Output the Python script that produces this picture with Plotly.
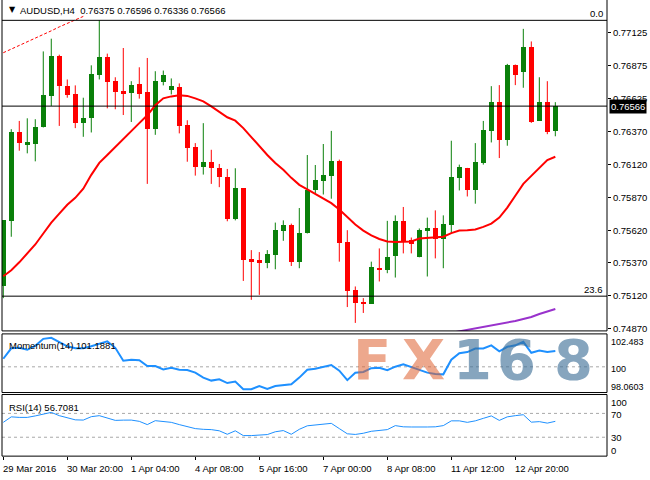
import numpy as np
import plotly.graph_objects as go

W, H = 650, 480
symbol = "AUDUSD,H4"

# ---- data (H4 candles, index 0..69) ----
open_ = [0.75195, 0.75691, 0.76365, 0.76277, 0.76277, 0.76403, 0.76642, 0.76951, 0.76716, 0.76655,
         0.76436, 0.76473, 0.76807, 0.76943, 0.76754, 0.76678, 0.76663, 0.76731, 0.76670, 0.76392,
         0.76749, 0.76688, 0.76711, 0.76421, 0.76256, 0.76105, 0.76140, 0.76095, 0.76026, 0.75703,
         0.75938, 0.75398, 0.75390, 0.75373, 0.75430, 0.75615, 0.75663, 0.75377, 0.75595, 0.75930,
         0.75998, 0.76036, 0.76150, 0.75527, 0.75165, 0.75072, 0.75059, 0.75330, 0.75317, 0.75423,
         0.75691, 0.75549, 0.75418, 0.75612, 0.75633, 0.75551, 0.75663, 0.76019, 0.76095, 0.75930,
         0.76135, 0.76377, 0.76600, 0.76309, 0.76877, 0.76824, 0.77019, 0.76453, 0.76600, 0.76375]
high_ = [0.75695, 0.76390, 0.76453, 0.76473, 0.76466, 0.76983, 0.77080, 0.76958, 0.76769, 0.76724,
         0.76630, 0.76877, 0.77220, 0.76966, 0.76786, 0.77009, 0.76756, 0.76862, 0.76933, 0.76832,
         0.76837, 0.76777, 0.76739, 0.76458, 0.76284, 0.76436, 0.76233, 0.76125, 0.76087, 0.76092,
         0.75938, 0.75468, 0.75453, 0.75468, 0.75678, 0.75695, 0.75670, 0.75789, 0.76193, 0.76117,
         0.76277, 0.76377, 0.76158, 0.75620, 0.75191, 0.75102, 0.75380, 0.75481, 0.75691, 0.75733,
         0.75797, 0.75564, 0.75633, 0.75716, 0.75771, 0.75733, 0.76302, 0.76120, 0.76095, 0.76284,
         0.76453, 0.76718, 0.76726, 0.76888, 0.76883, 0.77155, 0.77059, 0.76786, 0.76756, 0.76596]
low_ = [0.75102, 0.75570, 0.76226, 0.76206, 0.76145, 0.76403, 0.76567, 0.76415, 0.76630, 0.76398,
        0.76332, 0.76365, 0.76769, 0.76549, 0.76542, 0.76498, 0.76445, 0.76623, 0.75973, 0.76347,
        0.76724, 0.76655, 0.76358, 0.76142, 0.76036, 0.76044, 0.75973, 0.75948, 0.75688, 0.75695,
        0.75233, 0.75089, 0.75127, 0.75330, 0.75322, 0.75539, 0.75347, 0.75330, 0.75595, 0.75898,
        0.75892, 0.75860, 0.75380, 0.75034, 0.74913, 0.74989, 0.75059, 0.75229, 0.75292, 0.75259,
        0.75443, 0.75443, 0.75413, 0.75267, 0.75405, 0.75330, 0.75595, 0.75923, 0.75877, 0.75822,
        0.76120, 0.76289, 0.76170, 0.76264, 0.76726, 0.76706, 0.76438, 0.76453, 0.76352, 0.76336]
close_ = [0.75695, 0.76365, 0.76282, 0.76286, 0.76403, 0.76648, 0.76951, 0.76718, 0.76650, 0.76436,
          0.76479, 0.76812, 0.76941, 0.76749, 0.76673, 0.76665, 0.76724, 0.76655, 0.76392, 0.76754,
          0.76807, 0.76718, 0.76413, 0.76246, 0.76105, 0.76140, 0.76092, 0.76029, 0.75703, 0.75938,
          0.75392, 0.75380, 0.75377, 0.75438, 0.75625, 0.75658, 0.75377, 0.75602, 0.75930, 0.76004,
          0.76042, 0.76150, 0.75519, 0.75158, 0.75064, 0.75059, 0.75337, 0.75317, 0.75418, 0.75691,
          0.75539, 0.75514, 0.75625, 0.75633, 0.75551, 0.75670, 0.76029, 0.76100, 0.75930, 0.76142,
          0.76385, 0.76600, 0.76309, 0.76877, 0.76807, 0.77019, 0.76448, 0.76600, 0.76370, 0.76566]

ma_red = [0.75269, 0.75314, 0.75375, 0.75443, 0.75511, 0.75595, 0.75678, 0.75746, 0.75814, 0.75867,
          0.75936, 0.76042, 0.76133, 0.76193, 0.76254, 0.76314, 0.76383, 0.76436, 0.76496, 0.76572,
          0.76625, 0.76640, 0.76648, 0.76644, 0.76625, 0.76602, 0.76564, 0.76519, 0.76481, 0.76455,
          0.76398, 0.76330, 0.76261, 0.76193, 0.76133, 0.76080, 0.76019, 0.75966, 0.75932, 0.75898,
          0.75860, 0.75826, 0.75777, 0.75716, 0.75663, 0.75617, 0.75580, 0.75553, 0.75534, 0.75529,
          0.75529, 0.75534, 0.75557, 0.75562, 0.75567, 0.75570, 0.75598, 0.75617, 0.75620, 0.75625,
          0.75645, 0.75670, 0.75716, 0.75792, 0.75883, 0.75973, 0.76034, 0.76095, 0.76155, 0.76180]
ma_dash_idx = [0, 1, 2, 3, 4, 5, 6, 7, 8, 9, 10]
ma_dash = [0.76973, 0.77000, 0.77030, 0.77057, 0.77087, 0.77114, 0.77140, 0.77170, 0.77197, 0.77223, 0.77250]
ma_purple_idx = list(range(55, 70))
ma_purple = [0.74826, 0.74837, 0.74848, 0.74860, 0.74871, 0.74883, 0.74894, 0.74905, 0.74917, 0.74928,
             0.74943, 0.74958, 0.74981, 0.75000, 0.75019]

momentum = [100.609, 101.396, 101.434, 101.284, 101.584, 102.108, 102.183, 101.884, 101.546, 101.396,
            101.396, 101.546, 101.734, 101.921, 101.434, 100.459, 100.534, 100.497, 100.062, 100.062,
            99.807, 99.934, 99.784, 99.762, 99.560, 99.185, 98.960, 99.057, 98.773, 98.885,
            98.308, 98.308, 98.548, 98.323, 98.548, 98.623, 98.683, 99.185, 99.784, 99.860,
            99.972, 100.137, 99.710, 98.997, 99.560, 99.612, 99.897, 99.934, 99.747, 100.010,
            100.182, 99.972, 99.710, 99.560, 99.462, 99.432, 100.534, 101.022, 101.111, 101.381,
            101.381, 101.621, 101.171, 101.509, 101.621, 101.884, 101.059, 101.232, 101.111, 101.1881]
rsi = [55.0, 64.2, 63.3, 63.3, 65.8, 69.2, 71.7, 66.2, 63.3, 59.2,
       58.8, 64.5, 66.2, 62.8, 58.3, 58.7, 58.8, 56.7, 51.2, 57.8,
       56.7, 55.0, 51.2, 47.5, 44.5, 43.3, 42.8, 40.8, 35.0, 40.8,
       32.8, 32.8, 33.3, 34.5, 39.2, 41.2, 35.0, 43.3, 49.2, 50.8,
       51.7, 53.3, 44.5, 35.8, 34.7, 36.7, 40.0, 41.2, 42.8, 49.5,
       47.5, 47.2, 47.8, 47.2, 47.5, 49.5, 57.5, 57.5, 55.0, 57.5,
       61.7, 65.8, 58.3, 64.2, 66.2, 67.8, 55.3, 56.2, 53.7, 56.7081]

price_ticks = [0.77125, 0.76875, 0.76625, 0.76370, 0.76120, 0.75870, 0.75620, 0.75370, 0.75120, 0.74870]
price_tick_text = ["0.77125", "0.76875", "0.76625", "0.76370", "0.76120", "0.75870",
                   "0.75620", "0.75370", "0.75120", "0.74870"]
date_tick_idx = [0, 8, 16, 24, 32, 40, 48, 56, 64]
date_tick_text = ["29 Mar 2016", "30 Mar 20:00", "1 Apr 04:00", "4 Apr 08:00", "5 Apr 16:00",
                  "7 Apr 00:00", "8 Apr 08:00", "11 Apr 12:00", "12 Apr 20:00"]
fib_labels = ["0.0", "23.6"]
fib_values = [0.77220, 0.75117]
mom_labels = [102.4833, 100, 98.0603]
rsi_levels = [100, 70, 30, 0]

# ---- helpers ----
def px(x):
    return x / W

def py(y):
    return 1 - y / H

FONT = "Liberation Sans, Arial, sans-serif"
GREEN = "#0A800A"
RED = "#FF0000"

n = len(open_)
idx = np.arange(n)
o = np.array(open_); c = np.array(close_); hi = np.array(high_); lo = np.array(low_)
up = c >= o
colors = [GREEN if u else RED for u in up]
body_base = np.minimum(o, c)
body_h = np.maximum(np.abs(c - o), 0.00012)

fig = go.Figure()

# wicks
for flag, col in [(True, GREEN), (False, RED)]:
    xs, ys = [], []
    for i in idx[up == flag]:
        xs += [int(i), int(i), None]
        ys += [float(lo[i]), float(hi[i]), None]
    fig.add_trace(go.Scatter(x=xs, y=ys, mode="lines", line=dict(color=col, width=1),
                             xaxis="x", yaxis="y", hoverinfo="skip", showlegend=False))
# bodies
fig.add_trace(go.Bar(x=idx, y=body_h, base=body_base, width=0.62, marker=dict(color=colors, line=dict(width=0)),
                     xaxis="x", yaxis="y", hoverinfo="skip", showlegend=False))
# moving averages
fig.add_trace(go.Scatter(x=idx, y=ma_red, mode="lines", line=dict(color=RED, width=2),
                         xaxis="x", yaxis="y", hoverinfo="skip", showlegend=False))
fig.add_trace(go.Scatter(x=ma_dash_idx, y=ma_dash, mode="lines", line=dict(color=RED, width=1, dash="3px,2px"),
                         xaxis="x", yaxis="y", hoverinfo="skip", showlegend=False))
fig.add_trace(go.Scatter(x=ma_purple_idx, y=ma_purple, mode="lines", line=dict(color="#9932CC", width=2),
                         xaxis="x", yaxis="y", hoverinfo="skip", showlegend=False))
# momentum
fig.add_trace(go.Scatter(x=idx, y=momentum, mode="lines", line=dict(color="#1E90FF", width=2),
                         xaxis="x2", yaxis="y2", hoverinfo="skip", showlegend=False))
# rsi
fig.add_trace(go.Scatter(x=idx, y=rsi, mode="lines", line=dict(color="#1E90FF", width=1),
                         xaxis="x3", yaxis="y3", hoverinfo="skip", showlegend=False))

xr = [-0.16, 75.46]
xdom = [px(2), px(607)]
common_x = dict(range=xr, domain=xdom, showgrid=False, zeroline=False, showticklabels=False,
                fixedrange=True, showline=False)
shapes = []

def line(x0, y0, x1, y1, color="black", width=1):
    return dict(type="line", xref="paper", yref="paper", x0=px(x0), y0=py(y0), x1=px(x1), y1=py(y1),
                line=dict(color=color, width=width), layer="above")

# panel borders
shapes += [line(2, 0, 2, 333), line(607, 0, 607, 333), line(2, 333, 607, 333)]
shapes += [dict(type="rect", xref="paper", yref="paper", x0=px(2), x1=px(607), y0=py(395), y1=py(336),
                line=dict(color="black", width=1), layer="above"),
           dict(type="rect", xref="paper", yref="paper", x0=px(2), x1=px(607), y0=py(459), y1=py(397),
                line=dict(color="black", width=1), layer="above")]
# fib + price line
for v in fib_values + [close_[-1]]:
    shapes.append(dict(type="line", xref="x domain", yref="y", x0=0, x1=1, y0=v, y1=v,
                       line=dict(color="black", width=1), layer="above"))
# dashed levels
shapes.append(dict(type="line", xref="x2 domain", yref="y2", x0=0, x1=1, y0=100, y1=100,
                   line=dict(color="#A8A8A8", width=1, dash="3px,3px"), layer="below"))
for v in [70, 30]:
    shapes.append(dict(type="line", xref="x3 domain", yref="y3", x0=0, x1=1, y0=v, y1=v,
                       line=dict(color="#A8A8A8", width=1, dash="3px,3px"), layer="below"))

ann = []
FS = 9.5
tf = dict(family=FONT, size=FS, color="black")
# header
ann.append(dict(text="▼", x=px(7), y=py(10), xref="paper", yref="paper", xanchor="left", yanchor="middle",
                showarrow=False, font=dict(family="DejaVu Sans", size=8, color="black")))
ann.append(dict(text=f"{symbol}  {open_[-1]:.5f} {high_[-1]:.5f} {low_[-1]:.5f} {close_[-1]:.5f}",
                x=px(18), y=py(11), xref="paper", yref="paper", xanchor="left", yanchor="middle",
                showarrow=False, font=tf))
# fib labels
for lab, v in zip(fib_labels, fib_values):
    ann.append(dict(text=lab, x=px(605), y=v, xref="paper", yref="y", xanchor="right", yanchor="bottom",
                    showarrow=False, font=tf, yshift=-1))
# current price box
ann.append(dict(text=f"{close_[-1]:.5f}", x=px(609), y=close_[-1], xref="paper", yref="y",
                xanchor="left", yanchor="middle", showarrow=False, bgcolor="black", borderpad=1,
                font=dict(family=FONT, size=FS, color="white")))
# momentum labels
ann.append(dict(text=f"Momentum(14) {momentum[-1]:.4f}", x=px(7), y=py(348), xref="paper", yref="paper",
                xanchor="left", yanchor="middle", showarrow=False, font=tf))
for v, anc, sh in zip(mom_labels, ["top", "middle", "bottom"], [-1, -2, -1]):
    ann.append(dict(text=f"{v:g}", x=px(609), y=v, xref="paper", yref="y2", xanchor="left", yanchor=anc,
                    yshift=sh, showarrow=False, font=dict(family=FONT, size=9, color="black")))
# rsi labels
ann.append(dict(text=f"RSI(14) {rsi[-1]:.4f}", x=px(7), y=py(410), xref="paper", yref="paper",
                xanchor="left", yanchor="middle", showarrow=False, font=tf))
rsi_anchor = {100: ("top", 0), 70: ("middle", -1), 30: ("middle", 0), 0: ("middle", 5)}
for v in rsi_levels:
    anc, sh = rsi_anchor[v]
    ann.append(dict(text=f"{v}", x=px(610), y=v, xref="paper", yref="y3", borderpad=0,
                    xanchor="left", yanchor=anc, yshift=sh, showarrow=False, font=tf))
# date labels
for i, t in zip(date_tick_idx, date_tick_text):
    ann.append(dict(text=t, x=i, y=py(471), xref="x3", yref="paper", xanchor="left", yanchor="middle",
                    xshift=-2, showarrow=False, font=tf))
# watermark
wm = [("F", 372, "rgba(222,96,48,0.55)"), ("X", 424, "rgba(222,96,48,0.55)"),
      ("1", 472, "rgba(60,110,150,0.62)"), ("6", 516, "rgba(60,110,150,0.62)"),
      ("8", 573, "rgba(60,110,150,0.62)")]
for ch, cx, col in wm:
    ann.append(dict(text=ch, x=px(cx), y=py(362), xref="paper", yref="paper", xanchor="center",
                    yanchor="middle", showarrow=False,
                    font=dict(family="DejaVu Sans", size=56, color=col, weight="bold")))

fig.update_layout(
    width=W, height=H, margin=dict(l=0, r=0, t=0, b=0),
    paper_bgcolor="white", plot_bgcolor="white", showlegend=False, bargap=0,
    xaxis=dict(**common_x, anchor="y"),
    xaxis2=dict(**common_x, anchor="y2", matches="x"),
    xaxis3=dict(**common_x, anchor="y3", matches="x", ticks="outside", ticklen=3, tickcolor="black",
                tickvals=date_tick_idx),
    yaxis=dict(domain=[py(333), 1], range=[0.74852, 0.77375], side="right", anchor="x",
               tickvals=price_ticks, ticktext=price_tick_text, ticks="outside", ticklen=3,
               tickcolor="black", tickfont=tf, showgrid=False, zeroline=False, fixedrange=True),
    yaxis2=dict(domain=[py(395), py(336)], range=[98.0603, 102.4833], anchor="x2", showticklabels=False,
                showgrid=False, zeroline=False, fixedrange=True),
    yaxis3=dict(domain=[py(459), py(397)], range=[-1.67, 101.67], anchor="x3", showticklabels=False,
                showgrid=False, zeroline=False, fixedrange=True),
    shapes=shapes, annotations=ann,
)

fig.write_html("out.html", config={"displayModeBar": False},
               post_script="document.body.style.margin='0';document.body.style.padding='0';"
                           "document.body.style.overflow='hidden';")
